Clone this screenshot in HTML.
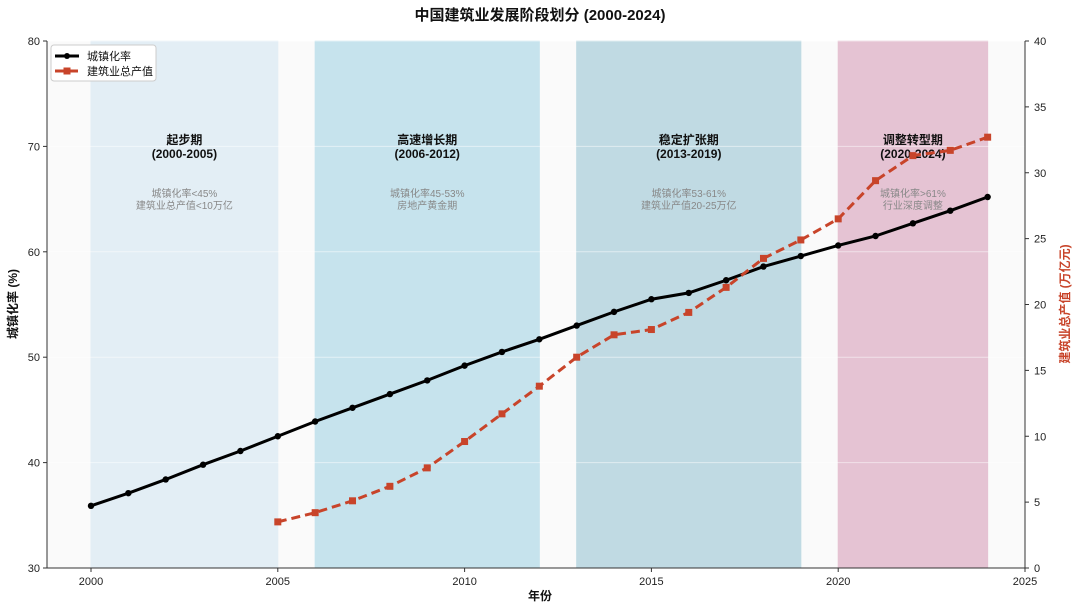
<!DOCTYPE html>
<html><head><meta charset="utf-8"><style>
body{margin:0;background:#fff;}
svg{display:block;font-family:"Liberation Sans","Noto Sans CJK SC",sans-serif;}
</style></head><body>
<svg id="c" width="1080" height="611"></svg>
<script>
const years=[2000,2001,2002,2003,2004,2005,2006,2007,2008,2009,2010,2011,2012,2013,2014,2015,2016,2017,2018,2019,2020,2021,2022,2023,2024];
const urban=[35.9,37.1,38.4,39.8,41.1,42.5,43.9,45.2,46.5,47.8,49.2,50.5,51.7,53.0,54.3,55.5,56.1,57.3,58.6,59.6,60.6,61.5,62.7,63.9,65.2];
const cYears=[2005,2006,2007,2008,2009,2010,2011,2012,2013,2014,2015,2016,2017,2018,2019,2020,2021,2022,2023,2024];
const constr=[3.5,4.2,5.1,6.2,7.6,9.6,11.7,13.8,16.0,17.7,18.1,19.4,21.3,23.5,24.9,26.5,29.4,31.3,31.7,32.7];
const xTicks=[2000,2005,2010,2015,2020,2025];
const yTicks=[30,40,50,60,70,80];
const y2Ticks=[0,5,10,15,20,25,30,35,40];
const phaseStart=[2000,2006,2013,2020];
const phaseEnd=[2005,2012,2019,2024];
const phaseName=["起步期","高速增长期","稳定扩张期","调整转型期"];
const phaseRange=["(2000-2005)","(2006-2012)","(2013-2019)","(2020-2024)"];
const phaseNote1=["城镇化率<45%","城镇化率45-53%","城镇化率53-61%","城镇化率>61%"];
const phaseNote2=["建筑业总产值<10万亿","房地产黄金期","建筑业产值20-25万亿","行业深度调整"];
const phaseColor=["#e3eef5","#c6e3ed","#c0dae3","#e5c3d3"];

const L=47,R=1025,T=41,B=568;
const x=v=>91+(v-2000)*(1025-91)/25;
const y=v=>B-(v-30)*(B-T)/50;
const y2=v=>B-v*(B-T)/40;
const svg=document.getElementById('c');
const NS='http://www.w3.org/2000/svg';
function mk(tag,attrs,parent){const e=document.createElementNS(NS,tag);for(const k in attrs)e.setAttribute(k,attrs[k]);(parent||svg).appendChild(e);return e;}
function txt(s,attrs){const e=mk('text',attrs);e.textContent=s;return e;}

const bg=mk('rect',{x:L,y:T,width:R-L,height:B-T,fill:'#fafafa'});


// phases
phaseStart.forEach((s,i)=>{
 const r=mk('rect',{x:x(s),y:T,width:x(phaseEnd[i])-x(s),height:B-T,fill:phaseColor[i],stroke:phaseColor[i]});
 
 
});
// grid
yTicks.forEach(t=>{const g=mk('line',{x1:L,x2:R,y1:y(t),y2:y(t),stroke:'#fff','stroke-opacity':0.5,'stroke-width':1});

});
phaseStart.forEach((s,i)=>{
 const cx=(x(s)+x(phaseEnd[i]))/2;
 const a=txt(phaseName[i],{x:cx,y:144,'text-anchor':'middle','font-size':12,'font-weight':'bold',fill:'#111'});
 
 
 const b=txt(phaseRange[i],{x:cx,y:158,'text-anchor':'middle','font-size':12,'font-weight':'bold',fill:'#111'});
 
 
 const c=txt(phaseNote1[i],{x:cx,y:197,'text-anchor':'middle','font-size':10,fill:'#888'});
 
 
 const d=txt(phaseNote2[i],{x:cx,y:209,'text-anchor':'middle','font-size':10,fill:'#888'});
 
 
});
// axes
mk('line',{x1:L,x2:L,y1:T,y2:B,stroke:'#333'});
mk('line',{x1:L,x2:R,y1:B,y2:B,stroke:'#333'});
mk('line',{x1:R,x2:R,y1:T,y2:B,stroke:'#333'});
xTicks.forEach(t=>{mk('line',{x1:x(t),x2:x(t),y1:B,y2:B+4,stroke:'#333'});
 const e=txt(t,{x:x(t),y:B+17,'text-anchor':'middle','font-size':11,fill:'#222'});
 
 });
yTicks.forEach(t=>{mk('line',{x1:L-4,x2:L,y1:y(t),y2:y(t),stroke:'#333'});
 const e=txt(t,{x:L-7,y:y(t)+4,'text-anchor':'end','font-size':11,fill:'#222'});
 
 });
y2Ticks.forEach(t=>{mk('line',{x1:R,x2:R+4,y1:y2(t),y2:y2(t),stroke:'#333'});
 const e=txt(t,{x:R+9,y:y2(t)+4,'font-size':11,fill:'#222'});
 
 });
// series
const p1=mk('polyline',{points:years.map((v,i)=>x(v)+','+y(urban[i])).join(' '),fill:'none',stroke:'#000','stroke-width':3});


years.forEach((v,i)=>{const c=mk('circle',{cx:x(v),cy:y(urban[i]),r:3.2,fill:'#000'});
 
 });
const p2=mk('polyline',{points:cYears.map((v,i)=>x(v)+','+y2(constr[i])).join(' '),fill:'none',stroke:'#c8442a','stroke-width':3,'stroke-dasharray':'9,5'});


cYears.forEach((v,i)=>{const c=mk('rect',{x:x(v)-3.5,y:y2(constr[i])-3.5,width:7,height:7,fill:'#c8442a'});
 
 });
// titles
const t1=txt('中国建筑业发展阶段划分 (2000-2024)',{x:540,y:20,'text-anchor':'middle','font-size':15,'font-weight':'bold',fill:'#111'});


const t2=txt('年份',{x:540,y:600,'text-anchor':'middle','font-size':12,'font-weight':'bold',fill:'#111'});


const t3=txt('城镇化率 (%)',{x:0,y:0,'text-anchor':'middle','font-size':12,'font-weight':'bold',fill:'#111',transform:'translate(17,304) rotate(-90)'});


const t4=txt('建筑业总产值 (万亿元)',{x:0,y:0,'text-anchor':'middle','font-size':12,'font-weight':'bold',fill:'#c8442a',transform:'translate(1069,304) rotate(-90)'});


// legend
const lg=mk('g',{});


mk('rect',{x:51,y:45,width:105,height:36,rx:3,fill:'#fff',stroke:'#ccc'},lg);
mk('line',{x1:55,x2:79,y1:56,y2:56,stroke:'#000','stroke-width':3},lg);
mk('circle',{cx:67,cy:56,r:3,fill:'#000'},lg);
mk('line',{x1:55,x2:79,y1:71,y2:71,stroke:'#c8442a','stroke-width':3,'stroke-dasharray':'9,5'},lg);
mk('rect',{x:63.5,y:67.5,width:7,height:7,fill:'#c8442a'},lg);
const l1=mk('text',{x:87,y:60,'font-size':11,fill:'#111'},lg);l1.textContent='城镇化率';


const l2=mk('text',{x:87,y:75,'font-size':11,fill:'#111'},lg);l2.textContent='建筑业总产值';


</script>
</body></html>
